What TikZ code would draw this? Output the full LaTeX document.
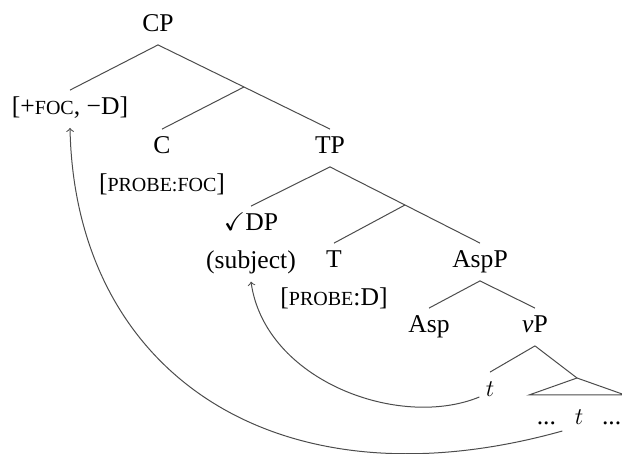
\documentclass[tikz,border=0pt]{standalone}
\usepackage{fontspec}
\usepackage{amssymb}
\setmainfont{Liberation Serif}
\usetikzlibrary{positioning, calc}

\newcommand{\fsc}[1]{{\fontsize{10pt}{11pt}\selectfont #1}}

\begin{document}
\begin{tikzpicture}[
    x=0.5pt, y=-0.5pt,
    node distance=0pt,
    font=\fontsize{12.8pt}{14pt}\selectfont,
    cat/.style={inner sep=3pt, text height=9.25pt, text depth=3.25pt},
    branch/.style={draw=black!70, line width=0.5pt},
    move/.style={draw=black!70, line width=0.5pt, ->},
]
\useasboundingbox (0,0) rectangle (622,454);

% Nodes
\node [cat, anchor=base] (cp) at (158,32) {CP};
\node [cat, anchor=base] (foc) at (70,115) {[+\fsc{FOC}, −D]};
\node [cat, anchor=base] (c) at (162,154) {C};
\node [cat, below=of c] (pfoc) {[\fsc{PROBE:FOC}]};
\node [cat, anchor=base] (tp) at (330,154) {TP};
\node [cat, anchor=base] (dp) at (251,231) {$\checkmark$DP};
\node [cat, below=of dp] (subj) {(subject)};
\node [cat, anchor=base] (t) at (334,268) {T};
\node [cat, below=of t] (pd) {[\fsc{PROBE}:D]};
\node [cat, anchor=base] (aspp) at (480,268) {AspP};
\node [cat, anchor=base] (asp) at (429,333) {Asp};
\node [cat, anchor=base] (vp) at (535,333) {\textit{v}P};
\node [cat, anchor=base] (t1) at (490,397) {$t$};
\node [cat, anchor=base] (t2) at (579,425) {$t$};
\node [cat, left=3pt of t2] (ldots) {...};
\node [cat, right=3pt of t2] (rdots) {...};

\coordinate (cbar) at ($(cp.south)!0.5!(tp.north)$);
\coordinate (tbar) at ($(tp.south)!0.5!(aspp.north)$);
\coordinate (tri) at (577,378);

% Lines
\draw [branch] (cp.south) -- (foc.north);
\draw [branch] (cp.south) -- (tp.north);
\draw [branch] (cbar) -- (c.north);
\draw [branch] (tp.south) -- (dp.north);
\draw [branch] (tp.south) -- (aspp.north);
\draw [branch] (tbar) -- (t.north);
\draw [branch] (aspp.south) -- (asp.north);
\draw [branch] (aspp.south) -- (vp.north);
\draw [branch] (vp.south) -- (t1.north);
\draw [branch] (vp.south) -- (tri);
\draw [branch] (tri) -- ++(-48,17) -- ++(96,0) -- cycle;

% Movement
\draw [move] (t1.base west) .. controls +(-80,33) and +(14,99) .. (subj.south);
\draw [move] ([xshift=-3pt,yshift=-3pt]t2.base west) .. controls +(-286,80) and +(5,245) .. (foc.south);

\end{tikzpicture}
\end{document}
